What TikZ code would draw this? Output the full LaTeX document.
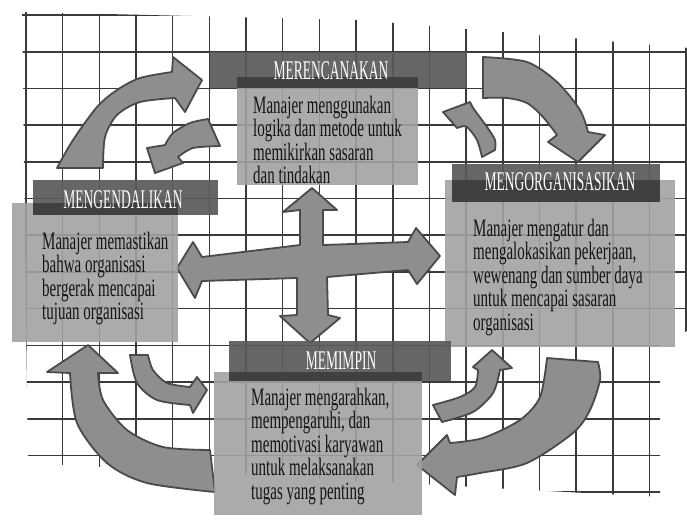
\documentclass[tikz,border=0pt]{standalone}
\usepackage{fontspec}
\newfontfamily\bodyfont[FakeStretch=0.6]{Liberation Serif}
\newfontfamily\headfont[FakeStretch=0.5]{Liberation Serif}
\definecolor{gridGray}{HTML}{3A3A3A}
\definecolor{barGray}{HTML}{5A5A5A}
\definecolor{stripGray}{HTML}{3C3C3C}
\definecolor{panelGray}{HTML}{A2A2A2}
\definecolor{arrowGray}{HTML}{8E8E8E}
\definecolor{edgeGray}{HTML}{4A4A4A}

\begin{document}
\begin{tikzpicture}[
    x=1pt, y=-1pt,
    gridline/.style={gridGray, line width=1.6pt},
    bar/.style={rectangle, anchor=north west, inner sep=0pt, fill=barGray, fill opacity=0.92},
    strip/.style={rectangle, anchor=north west, inner sep=0pt, fill=stripGray, fill opacity=0.95},
    panel/.style={rectangle, anchor=north west, inner sep=0pt, fill=panelGray, fill opacity=0.9},
    head/.style={inner sep=0pt, text=white, font=\headfont\fontsize{27}{29}\selectfont},
    body/.style={anchor=north west, inner sep=0pt, align=left, text=black!92, font=\bodyfont\fontsize{25}{23.4}\selectfont},
    arrowshape/.style={fill=arrowGray, draw=edgeGray, line width=1.8pt, line join=round}
]
\fill[white] (0,0) rectangle (687,523);
\useasboundingbox (0,0) rectangle (687,523);

% grid
\begin{scope}
\clip (22,12) -- (360,20) -- (689,48) -- (689,330) -- (660,345) -- (660,497) -- (28,463) -- cycle;
\foreach \i in {0,...,18} \draw[gridline] (26+36.67*\i,8) -- (26+36.67*\i,500);
\foreach \j in {0,...,13} \draw[gridline] (18,15+36.7*\j) -- (690,15+36.7*\j);
\end{scope}

% cross in the middle
\draw[arrowshape] (312,188) -- (337,210) -- (323,210) -- (323,245) -- (408,242) -- (416,228) -- (440,256) -- (417,284) -- (408,270) -- (327,277) -- (328,315) -- (340,318) -- (310,343) -- (280,316) -- (297,315) -- (297,278) -- (202,281) -- (195,298) -- (177,268) -- (193,242) -- (202,257) -- (300,245) -- (300,210) -- (283,212) -- cycle;

% big cycle arrows
\draw[arrowshape] plot[smooth] coordinates {(103,168) (105,137) (117,115) (140,102) (175,98)} -- (185,112) -- (202,80) -- (173,57) -- plot[smooth] coordinates {(172,72) (140,78) (117,90) (97,107) (73,140) (57,168)} -- cycle;
\draw[arrowshape] (483,57) -- plot[smooth] coordinates {(483,57) (527,62) (557,82) (580,110) (588,132)} -- (605,135) -- (578,162) -- (548,142) -- plot[smooth] coordinates {(557,135) (543,117) (527,103) (507,98) (483,98)} -- cycle;
\draw[arrowshape] (547,358) -- (598,362) -- plot[smooth] coordinates {(598,362) (600,380) (590,410) (573,433) (527,463) (480,473) (457,477)} -- (455,495) -- (417,465) -- (447,435) -- plot[smooth] coordinates {(450,443) (483,438) (520,420) (540,397) (547,358)} -- cycle;
\draw[arrowshape] (88,345) -- (118,373) -- plot[smooth] coordinates {(98,373) (103,400) (127,430) (163,447) (210,450)} -- (215,492) -- plot[smooth] coordinates {(215,492) (147,483) (107,463) (77,423) (70,373)} -- (47,372) -- cycle;

% small inner arrows
\draw[arrowshape] (220,146) -- plot[smooth] coordinates {(208,119) (190,123) (173,133) (165,145)} -- (147,148) -- (155,173) -- (183,163) -- plot[smooth] coordinates {(178,157) (193,148) (220,146)} -- cycle;
\draw[arrowshape] (443,112) -- (470,102) -- plot[smooth] coordinates {(473,108) (487,127) (495,140) (495,150)} -- (482,157) -- plot[smooth] coordinates {(482,157) (477,140) (467,127) (460,127)} -- (457,128) -- cycle;
\draw[arrowshape] plot[smooth] coordinates {(433,405) (460,397) (475,387) (478,370)} -- (473,367) -- (492,350) -- (512,368) -- plot[smooth] coordinates {(500,370) (493,393) (473,412) (442,422)} -- cycle;
\draw[arrowshape] (130,355) -- plot[smooth] coordinates {(148,355) (153,370) (167,383) (190,387)} -- (197,377) -- (207,390) -- (193,413) -- plot[smooth] coordinates {(190,405) (157,400) (137,383) (130,355)} -- cycle;

% merencanakan
\node[bar, minimum width=257pt, minimum height=36pt] (planbar) at (210,52) {};
\node[panel, minimum width=181pt, minimum height=108pt] (planpanel) at (237,77) {};
\node[strip, minimum width=181pt, minimum height=11pt] (planstrip) at (237,77) {};
\node[head] (plantitle) at (331,71) {MERENCANAKAN};
\node[body] (plantext) at (253,96) {Manajer menggunakan\\logika dan metode untuk\\memikirkan sasaran\\dan tindakan};

% mengendalikan
\node[bar, minimum width=185pt, minimum height=35pt] (controlbar) at (33,180) {};
\node[panel, minimum width=166pt, minimum height=139pt] (controlpanel) at (12,203) {};
\node[strip, minimum width=145pt, minimum height=12pt] (controlstrip) at (33,203) {};
\node[head] (controltitle) at (123,200) {MENGENDALIKAN};
\node[body] (controltext) at (42,232) {Manajer memastikan\\bahwa organisasi\\bergerak mencapai\\tujuan organisasi};

% mengorganisasikan
\node[bar, minimum width=208pt, minimum height=38pt] (organizebar) at (452,164) {};
\node[panel, minimum width=230pt, minimum height=167pt] (organizepanel) at (445,180) {};
\node[strip, minimum width=208pt, minimum height=22pt] (organizestrip) at (452,180) {};
\node[head] (organizetitle) at (560,182) {MENGORGANISASIKAN};
\node[body] (organizetext) at (473,219) {Manajer mengatur dan\\mengalokasikan pekerjaan,\\wewenang dan sumber daya\\untuk mencapai sasaran\\organisasi};

% memimpin
\node[bar, minimum width=222pt, minimum height=40pt] (leadbar) at (229,341) {};
\node[panel, minimum width=208pt, minimum height=143pt] (leadpanel) at (214,372) {};
\node[strip, minimum width=193pt, minimum height=9pt] (leadstrip) at (229,372) {};
\node[head] (leadtitle) at (341,361) {MEMIMPIN};
\node[body] (leadtext) at (251,388) {Manajer mengarahkan,\\mempengaruhi, dan\\memotivasi karyawan\\untuk melaksanakan\\tugas yang penting};
\end{tikzpicture}
\end{document}
